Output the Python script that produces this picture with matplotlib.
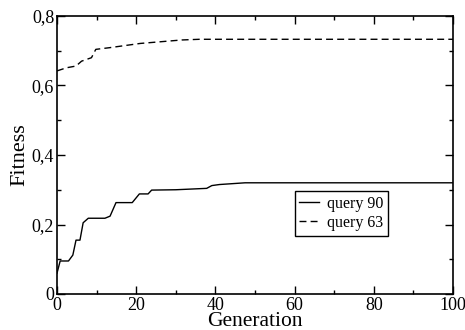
import matplotlib
matplotlib.use("Agg")
import matplotlib.pyplot as plt
from matplotlib.ticker import MultipleLocator, FuncFormatter

plt.rcParams['font.family'] = ['Liberation Serif', 'DejaVu Serif']

# query 90 (solid)
gen90 = [0, 0.8, 2.9, 4.0, 4.8, 5.8, 6.6, 7.9, 12.1, 13.4, 14.9, 19.0, 20.8, 23.0, 23.9, 30, 37.8, 39.1, 41, 47.5, 100]
fit90 = [0.06, 0.095, 0.095, 0.112, 0.155, 0.155, 0.205, 0.218, 0.218, 0.224, 0.263, 0.263, 0.288, 0.288, 0.299, 0.300, 0.304, 0.312, 0.315, 0.320, 0.320]

# query 63 (dashed)
gen63 = [0, 2.4, 4.8, 6.2, 8.7, 9.8, 13.4, 21, 31.5, 36, 100]
fit63 = [0.642, 0.651, 0.656, 0.670, 0.680, 0.704, 0.709, 0.721, 0.731, 0.733, 0.733]

fig = plt.figure(figsize=(4.65, 3.3), dpi=100)
ax = fig.add_axes([57/465, 1 - 294/330, 396/465, 278/330])

ax.plot(gen90, fit90, color="black", lw=1.0, label="query 90")
ax.plot(gen63, fit63, color="black", lw=1.0, ls=(0, (5, 3)), label="query 63")

ax.set_xlim(0, 100)
ax.set_ylim(0, 0.8)
ax.xaxis.set_major_locator(MultipleLocator(20))
ax.xaxis.set_minor_locator(MultipleLocator(10))
ax.yaxis.set_major_locator(MultipleLocator(0.2))
ax.yaxis.set_minor_locator(MultipleLocator(0.1))
ax.yaxis.set_major_formatter(FuncFormatter(lambda v, p: "0" if abs(v) < 1e-9 else ("%g" % v).replace(".", ",")))
ax.tick_params(which="both", direction="in", top=True, right=True, labelsize=13, pad=2)
ax.tick_params(which="major", length=6, width=1)
ax.tick_params(which="minor", length=3, width=1)
for s in ax.spines.values():
    s.set_linewidth(1.2)

ax.set_xlabel("Generation", fontsize=15.5, labelpad=-1)
ax.set_ylabel("Fitness", fontsize=16, labelpad=2)

leg = ax.legend(loc="lower left", bbox_to_anchor=(0.6, 0.21), borderaxespad=0, fontsize=11.5,
                fancybox=False, edgecolor="black", framealpha=1,
                handlelength=1.2, borderpad=0.3, labelspacing=0.2, handletextpad=0.5)
leg.get_frame().set_linewidth(1.0)

fig.savefig("out.png", dpi=100)
